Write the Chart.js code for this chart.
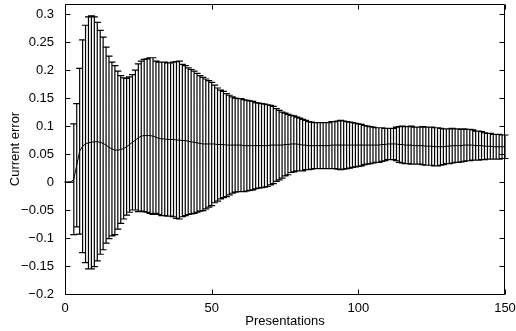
<!DOCTYPE html>
<html>
<head>
<meta charset="utf-8">
<style>
html, body { margin: 0; padding: 0; background: #fff; }
#wrap { width: 516px; height: 331px; }
</style>
<script src="https://cdn.jsdelivr.net/npm/chart.js@4.4.1/dist/chart.umd.min.js"></script>
</head>
<body>
<div id="wrap"><canvas id="c" width="516" height="331"></canvas></div>
<script>
'use strict';

// presentation index (x)
var presentations = [
    1, 2, 3, 4, 5, 6, 7, 8, 9, 10, 11, 12, 13, 14, 15, 16, 17, 18, 19, 20,
    21, 22, 23, 24, 25, 26, 27, 28, 29, 30, 31, 32, 33, 34, 35, 36, 37, 38, 39, 40,
    41, 42, 43, 44, 45, 46, 47, 48, 49, 50, 51, 52, 53, 54, 55, 56, 57, 58, 59, 60,
    61, 62, 63, 64, 65, 66, 67, 68, 69, 70, 71, 72, 73, 74, 75, 76, 77, 78, 79, 80,
    81, 82, 83, 84, 85, 86, 87, 88, 89, 90, 91, 92, 93, 94, 95, 96, 97, 98, 99, 100,
    101, 102, 103, 104, 105, 106, 107, 108, 109, 110, 111, 112, 113, 114, 115, 116, 117, 118, 119, 120,
    121, 122, 123, 124, 125, 126, 127, 128, 129, 130, 131, 132, 133, 134, 135, 136, 137, 138, 139, 140,
    141, 142, 143, 144, 145, 146, 147, 148, 149, 150
];

// mean current error
var meanErr = [
    0, 0, 0.005, 0.03, 0.055, 0.064, 0.068, 0.07, 0.071, 0.072,
    0.072, 0.071, 0.069, 0.066, 0.062, 0.059, 0.057, 0.057, 0.058, 0.06,
    0.063, 0.067, 0.071, 0.075, 0.079, 0.082, 0.083, 0.083, 0.083, 0.082,
    0.08, 0.078, 0.077, 0.077, 0.076, 0.076, 0.076, 0.075, 0.075, 0.074,
    0.074, 0.073, 0.072, 0.071, 0.07, 0.069, 0.068, 0.068, 0.068, 0.068,
    0.068, 0.067, 0.067, 0.067, 0.066, 0.066, 0.066, 0.066, 0.066, 0.066,
    0.065, 0.065, 0.065, 0.065, 0.065, 0.065, 0.065, 0.065, 0.065, 0.066,
    0.066, 0.066, 0.066, 0.066, 0.067, 0.067, 0.068, 0.068, 0.068, 0.067,
    0.066, 0.066, 0.065, 0.065, 0.065, 0.065, 0.065, 0.065, 0.065, 0.065,
    0.066, 0.066, 0.066, 0.066, 0.066, 0.066, 0.066, 0.066, 0.066, 0.066,
    0.066, 0.066, 0.066, 0.066, 0.066, 0.066, 0.066, 0.067, 0.067, 0.068,
    0.068, 0.068, 0.068, 0.067, 0.067, 0.066, 0.066, 0.066, 0.065, 0.065,
    0.065, 0.065, 0.064, 0.064, 0.064, 0.063, 0.063, 0.063, 0.063, 0.064,
    0.064, 0.065, 0.065, 0.065, 0.065, 0.066, 0.066, 0.066, 0.066, 0.065,
    0.065, 0.065, 0.064, 0.064, 0.064, 0.063, 0.063, 0.063, 0.063, 0.063
];

// error bar half-length (std)
var stdErr = [
    0, 0, 0.099, 0.11, 0.148, 0.19, 0.212, 0.225, 0.226, 0.223,
    0.213, 0.2, 0.19, 0.175, 0.163, 0.155, 0.151, 0.141, 0.132, 0.126,
    0.122, 0.121, 0.121, 0.125, 0.132, 0.134, 0.136, 0.137, 0.139, 0.14,
    0.136, 0.136, 0.137, 0.137, 0.137, 0.137, 0.138, 0.14, 0.141, 0.136,
    0.134, 0.131, 0.129, 0.127, 0.124, 0.121, 0.119, 0.116, 0.113, 0.11,
    0.105, 0.101, 0.097, 0.095, 0.092, 0.089, 0.086, 0.084, 0.083, 0.083,
    0.082, 0.081, 0.08, 0.079, 0.077, 0.076, 0.075, 0.074, 0.073, 0.071,
    0.069, 0.065, 0.062, 0.059, 0.056, 0.054, 0.051, 0.05, 0.048, 0.047,
    0.046, 0.044, 0.043, 0.042, 0.041, 0.041, 0.041, 0.041, 0.041, 0.041,
    0.042, 0.042, 0.043, 0.044, 0.043, 0.042, 0.041, 0.04, 0.039, 0.038,
    0.037, 0.035, 0.034, 0.033, 0.032, 0.031, 0.031, 0.03, 0.029, 0.028,
    0.028, 0.028, 0.03, 0.032, 0.033, 0.033, 0.033, 0.034, 0.033, 0.033,
    0.033, 0.034, 0.034, 0.034, 0.034, 0.034, 0.034, 0.033, 0.032, 0.031,
    0.031, 0.031, 0.03, 0.03, 0.029, 0.029, 0.028, 0.028, 0.027, 0.026,
    0.026, 0.025, 0.024, 0.023, 0.023, 0.022, 0.022, 0.022, 0.021, 0.021
];

var xTicks = [0, 50, 100, 150];
var yTicks = [-0.2, -0.15, -0.1, -0.05, 0, 0.05, 0.1, 0.15, 0.2, 0.25, 0.3];

var FONT = "'Liberation Sans', Arial, Helvetica, sans-serif";
var CAP = 1.2;      // half cap width, in x units
var TICK = 5;       // inward tick length, px

function fmt(v) {
    var s = String(Math.round(v * 100) / 100);
    return s.replace('-', '\u2212');
}

// vertical error bars with caps, drawn under the mean line
var errorBars = {
    id: 'errorBars',
    beforeDatasetsDraw: function(chart) {
        var ctx = chart.ctx, xs = chart.scales.x, ys = chart.scales.y;
        ctx.save();
        ctx.strokeStyle = '#000';
        ctx.lineWidth = 1.2;
        ctx.beginPath();
        presentations.forEach(function(p, i) {
            var px = xs.getPixelForValue(p);
            var top = ys.getPixelForValue(meanErr[i] + stdErr[i]);
            var bot = ys.getPixelForValue(meanErr[i] - stdErr[i]);
            var cl = xs.getPixelForValue(p - CAP), cr = xs.getPixelForValue(p + CAP);
            ctx.moveTo(px, top); ctx.lineTo(px, bot);
            ctx.moveTo(cl, top); ctx.lineTo(cr, top);
            ctx.moveTo(cl, bot); ctx.lineTo(cr, bot);
        });
        ctx.stroke();
        ctx.restore();
    }
};

// matlab style box with inward ticks on all four sides
var boxAxes = {
    id: 'boxAxes',
    afterDraw: function(chart) {
        var ctx = chart.ctx, a = chart.chartArea, xs = chart.scales.x, ys = chart.scales.y;
        var l = Math.round(a.left) + 0.5, r = Math.round(a.right) - 0.5;
        var t = Math.round(a.top) + 0.5, b = Math.round(a.bottom) + 0.5;
        ctx.save();
        ctx.strokeStyle = '#000';
        ctx.lineWidth = 1;
        ctx.beginPath();
        ctx.rect(l, t, r - l, b - t);
        xTicks.forEach(function(v) {
            var px = Math.round(xs.getPixelForValue(v)) + 0.5;
            ctx.moveTo(px, b); ctx.lineTo(px, b - TICK);
            ctx.moveTo(px, t); ctx.lineTo(px, t + TICK);
        });
        yTicks.forEach(function(v) {
            var py = Math.round(ys.getPixelForValue(v)) + 0.5;
            ctx.moveTo(l, py); ctx.lineTo(l + TICK, py);
            ctx.moveTo(r, py); ctx.lineTo(r - TICK, py);
        });
        ctx.stroke();
        ctx.restore();
    }
};

new Chart(document.getElementById('c'), {
    type: 'line',
    data: {
        datasets: [{
            label: 'Current error',
            data: presentations.map(function(p, i) { return { x: p, y: meanErr[i] }; }),
            borderColor: '#000',
            borderWidth: 1,
            pointRadius: 0,
            tension: 0,
            fill: false
        }]
    },
    options: {
        responsive: false,
        animation: false,
        devicePixelRatio: 1,
        layout: { padding: { top: 4, right: 11, left: 0, bottom: 0 } },
        plugins: { legend: { display: false }, tooltip: { enabled: false } },
        scales: {
            x: {
                type: 'linear',
                min: 0, max: 150,
                grid: { display: false },
                border: { display: false },
                afterBuildTicks: function(s) { s.ticks = xTicks.map(function(v) { return { value: v }; }); },
                afterFit: function(s) { s.height = 37; s.paddingLeft = 0; s.paddingRight = 0; },
                ticks: {
                    autoSkip: false, maxRotation: 0, padding: -1, color: '#000',
                    font: { family: FONT, size: 13 },
                    callback: function(v) { return fmt(v); }
                },
                title: {
                    display: true, text: 'Presentations', color: '#000',
                    font: { family: FONT, size: 13 },
                    padding: { top: 0, bottom: 2 }
                }
            },
            y: {
                type: 'linear',
                min: -0.2, max: 0.318,
                grid: { display: false },
                border: { display: false },
                afterBuildTicks: function(s) { s.ticks = yTicks.map(function(v) { return { value: v }; }); },
                afterFit: function(s) { s.width = 65; s.paddingTop = 0; s.paddingBottom = 0; },
                ticks: {
                    autoSkip: false, padding: 3, color: '#000',
                    font: { family: FONT, size: 13 },
                    callback: function(v) { return fmt(v); }
                },
                title: {
                    display: true, text: 'Current error', color: '#000',
                    font: { family: FONT, size: 13 },
                    padding: { top: 8, bottom: 0 }
                }
            }
        }
    },
    plugins: [errorBars, boxAxes]
});
</script>
</body>
</html>
